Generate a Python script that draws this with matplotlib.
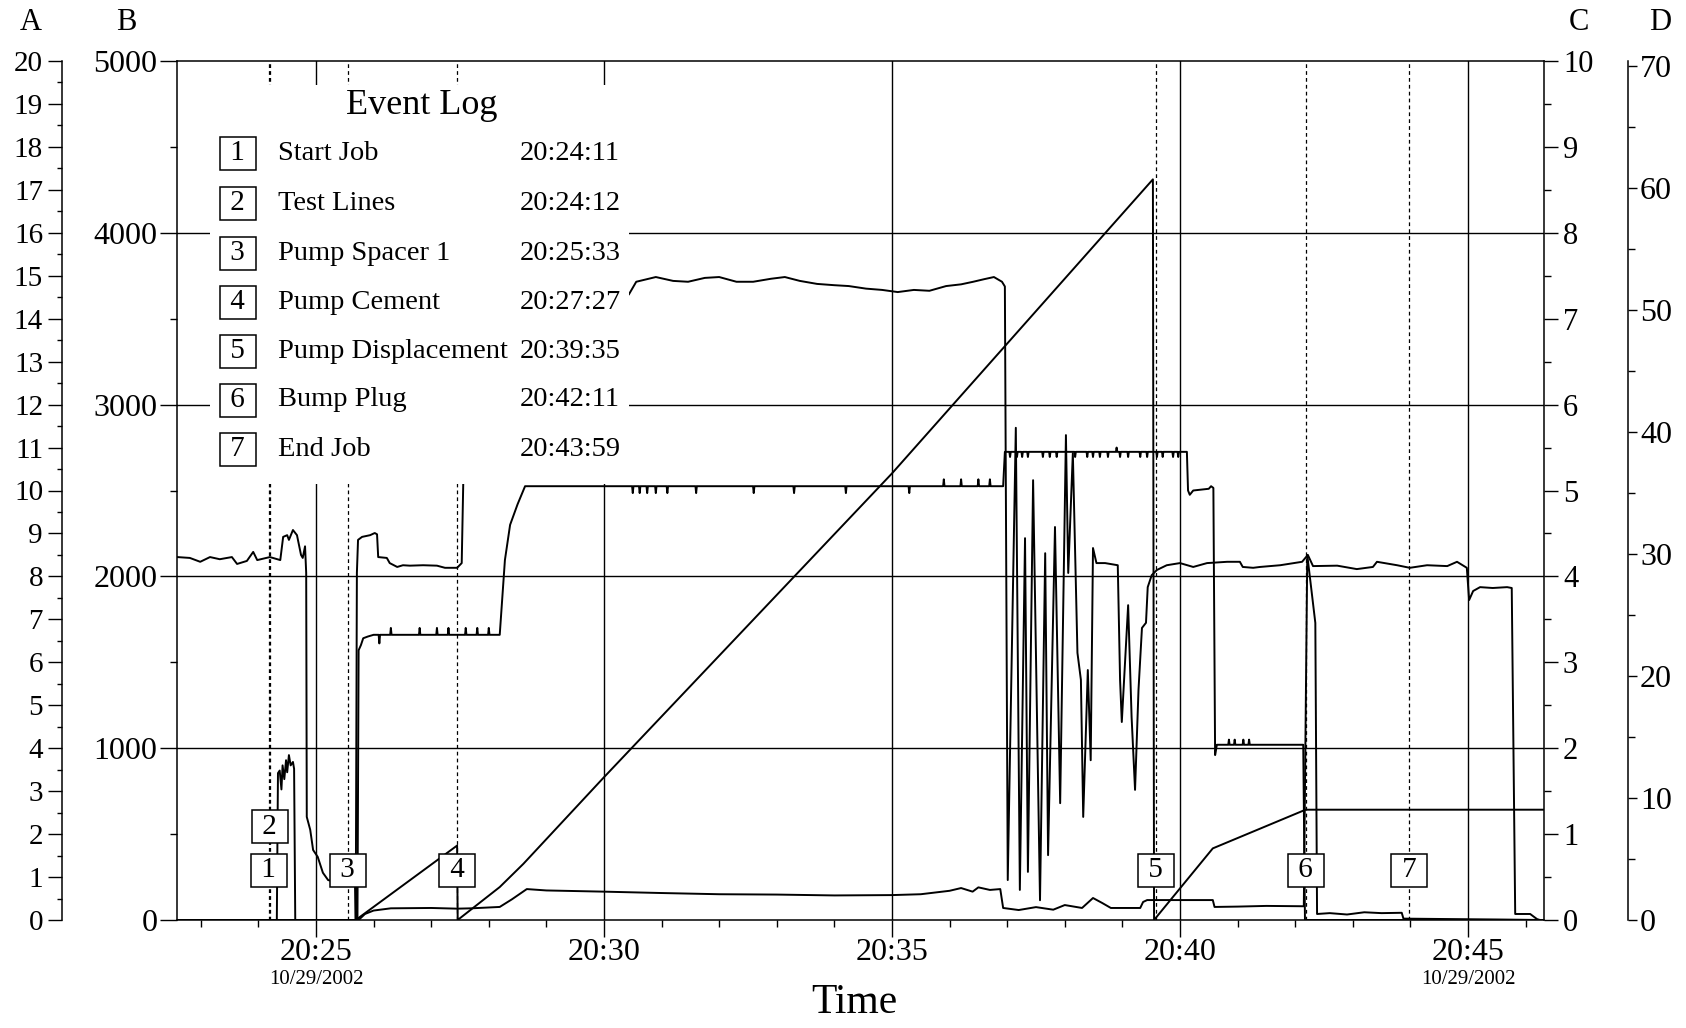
import matplotlib
matplotlib.use('Agg')
import matplotlib.pyplot as plt
from matplotlib.patches import Rectangle
from matplotlib.ticker import MultipleLocator, FixedLocator
import matplotlib.transforms as mtransforms

plt.rcParams['font.family'] = ['Liberation Serif', 'DejaVu Serif']

# ---- data (time in minutes after 20:00) ----
event_nums = ['1', '2', '3', '4', '5', '6', '7']
event_names = ['Start Job', 'Test Lines', 'Pump Spacer 1', 'Pump Cement',
               'Pump Displacement', 'Bump Plug', 'End Job']
event_times = ['20:24:11', '20:24:12', '20:25:33', '20:27:27',
               '20:39:35', '20:42:11', '20:43:59']
event_box_level = [290, 547, 290, 290, 290, 290, 290]   # psi scale

# density (A axis, ppg)
dens_t = [22.59, 22.81, 22.99, 23.16, 23.33, 23.54, 23.63, 23.80, 23.91, 23.98,
          24.20, 24.38, 24.43, 24.50, 24.53, 24.60, 24.67, 24.74, 24.77, 24.81,
          24.83, 24.84, 24.90, 24.95, 25.03, 25.12, 25.21, 25.45, 25.68, 25.69,
          25.71, 25.73, 25.80, 25.94, 26.02, 26.06, 26.08, 26.23, 26.28, 26.41,
          26.51, 26.63, 26.86, 27.10, 27.24, 27.45, 27.53, 27.56, 27.70, 28.50,
          29.50, 30.43, 30.56, 30.90, 31.20, 31.46, 31.75, 32.00, 32.30, 32.59,
          32.90, 33.14, 33.40, 33.70, 34.00, 34.25, 34.55, 34.83, 35.10, 35.38,
          35.65, 35.94, 36.20, 36.41, 36.60, 36.77, 36.91, 36.96, 37.01,
          37.15, 37.22, 37.31, 37.36, 37.45, 37.57, 37.66, 37.71, 37.83, 37.92,
          38.02, 38.06, 38.14, 38.22, 38.28, 38.32, 38.40, 38.45, 38.49, 38.55,
          38.70, 38.92, 38.96, 38.99, 39.10, 39.16, 39.22, 39.28, 39.34, 39.41,
          39.44, 39.51, 39.60, 39.77, 40.00, 40.23, 40.47, 40.82, 41.04, 41.09,
          41.27, 41.39, 41.74, 42.12, 42.22, 42.31, 42.73, 43.07, 43.35, 43.42,
          43.77, 43.99, 44.29, 44.64, 44.81, 44.98, 45.02, 45.09, 45.21, 45.43,
          45.68, 45.76, 45.82, 46.08, 46.20, 46.25]
dens_ppg = [8.45, 8.43, 8.34, 8.45, 8.40, 8.45, 8.29, 8.36, 8.57, 8.38,
            8.45, 8.38, 8.92, 8.96, 8.85, 9.08, 8.96, 8.50, 8.43, 8.70,
            8.08, 2.40, 2.10, 1.63, 1.47, 1.10, 0.93, 0.85, 0.80, 0.00,
            8.08, 8.85, 8.92, 8.96, 9.01, 8.98, 8.45, 8.43, 8.31, 8.22,
            8.26, 8.25, 8.26, 8.25, 8.20, 8.20, 8.31, 10.4, 12.0, 13.5,
            14.3, 14.56, 14.86, 14.97, 14.88, 14.86, 14.95, 14.97, 14.86, 14.86,
            14.93, 14.97, 14.88, 14.81, 14.78, 14.76, 14.70, 14.67, 14.62, 14.67,
            14.65, 14.76, 14.80, 14.86, 14.92, 14.97, 14.86, 14.75, 0.93,
            11.46, 0.70, 8.89, 1.12, 10.24, 0.46, 8.54, 1.51, 9.15, 2.72,
            11.29, 8.08, 10.87, 6.22, 5.59, 2.40, 5.82, 3.72, 8.66, 8.31,
            8.31, 8.26, 5.59, 4.61, 7.33, 4.73, 3.03, 5.36, 6.80, 6.92,
            7.75, 8.03, 8.15, 8.26, 8.31, 8.22, 8.31, 8.34, 8.34, 8.22,
            8.20, 8.22, 8.26, 8.34, 8.50, 8.24, 8.25, 8.17, 8.22, 8.34,
            8.26, 8.20, 8.26, 8.24, 8.34, 8.20, 7.45, 7.66, 7.75, 7.73,
            7.75, 7.73, 0.14, 0.14, 0.02, 0.00]

# pressure (B axis, psi)
pres_t = [22.59, 24.32, 24.34, 24.37, 24.40, 24.42, 24.45, 24.48, 24.50, 24.53,
          24.56, 24.60, 24.62, 24.64, 25.74, 25.85, 26.00, 26.30, 27.00, 27.45,
          27.70, 28.19, 28.40, 28.66, 29.00, 30.00, 31.00, 32.00, 33.00, 34.00,
          35.00, 35.50, 36.00, 36.20, 36.40, 36.50, 36.70, 36.88, 36.93, 37.20,
          37.50, 37.80, 38.00, 38.30, 38.49, 38.65, 38.80, 39.31, 39.36, 39.43,
          40.57, 40.60, 41.00, 41.50, 42.15, 42.21, 42.35, 42.38, 42.60, 42.90,
          43.20, 43.50, 43.85, 43.88, 44.50, 45.50, 46.30]
pres_psi = [0, 0, 855, 870, 760, 900, 820, 930, 860, 960,
            900, 920, 880, 0, 0, 35, 55, 68, 70, 66,
            68, 76, 120, 180, 172, 165, 157, 150, 148, 143,
            145, 150, 170, 186, 165, 190, 175, 180, 70, 58,
            75, 60, 87, 70, 128, 99, 70, 70, 105, 116,
            116, 76, 78, 82, 80, 2125, 1729, 35, 40, 32,
            45, 40, 42, 8, 6, 3, 0]

# rate (C axis, bpm): ramps between flat stretches, plus the small notches seen on each flat stretch
rate_start_t = [22.59, 25.72, 25.74, 25.78, 25.82, 25.90]
rate_start_v = [0, 0, 3.14, 3.20, 3.28, 3.30]
rate_flat1 = (26.0, 28.15, 3.32)
rate_flat1_up = [26.3, 26.8, 27.1, 27.3, 27.6, 27.8, 28.0]
rate_ramp2_t = [28.19, 28.28, 28.37, 28.50]
rate_ramp2_v = [3.32, 4.19, 4.60, 4.84]
rate_flat2 = (28.63, 36.93, 5.05)
rate_flat2_down = [30.5, 30.62, 30.75, 30.9, 31.1, 31.6, 32.6, 33.3, 34.2, 35.3]
rate_flat2_up = [35.9, 36.2, 36.5, 36.7]
rate_flat3 = (36.96, 40.12, 5.45)
rate_flat3_down = [37.05, 37.17, 37.26, 37.36, 37.62, 37.74, 37.86, 38.18, 38.39, 38.49,
                   38.61, 38.75, 38.96, 39.10, 39.31, 39.43, 39.60, 39.70, 39.88, 39.97]
rate_step_t = [40.14, 40.17, 40.23, 40.50, 40.54, 40.58, 40.61]
rate_step_v = [5.00, 4.95, 5.00, 5.02, 5.05, 5.03, 1.92]
rate_flat4 = (40.64, 42.14, 2.04)
rate_flat4_up = [40.85, 40.95, 41.10, 41.20]
rate_end_t = [42.17, 46.32]
rate_end_v = [0, 0]

# volume (D axis, bbl)
vol_t = [22.59, 25.69, 27.45, 27.46, 28.19, 28.60, 29.98, 35.00, 39.53, 39.55,
         40.57, 42.18, 46.32]
vol_bbl = [0, 0, 6.1, 0, 2.7, 4.6, 11.6, 36.6, 60.7, 0,
           5.87, 9.04, 9.04]


def hms(s):
    h, m, sec = (int(v) for v in s.split(':'))
    return (h - 20) * 60 + m + sec / 60.0


def flat(seg, notches):
    # flat stretch with narrow notches at the listed (time, value) spots
    t0, t1, level = seg
    ts, vs = [t0], [level]
    for t, v in sorted(notches):
        ts += [t - 0.012, t, t + 0.012]
        vs += [level, v, level]
    ts.append(t1)
    vs.append(level)
    return ts, vs


rate_t, rate_bpm = list(rate_start_t), list(rate_start_v)
for seg, notch, ramp_t, ramp_v in [
        (rate_flat1, [(t, 3.40) for t in rate_flat1_up] + [(26.1, 3.22)], rate_ramp2_t, rate_ramp2_v),
        (rate_flat2, [(t, 4.97) for t in rate_flat2_down] + [(t, 5.13) for t in rate_flat2_up], [], []),
        (rate_flat3, [(t, 5.39) for t in rate_flat3_down] + [(38.9, 5.50)], rate_step_t, rate_step_v),
        (rate_flat4, [(t, 2.10) for t in rate_flat4_up], rate_end_t, rate_end_v)]:
    ts, vs = flat(seg, notch)
    rate_t += ts + ramp_t
    rate_bpm += vs + ramp_v

ev_t = [hms(s) for s in event_times]

W, H = 1686, 1028
fig = plt.figure(figsize=(W / 100, H / 100), dpi=100)
axB = fig.add_axes([177 / W, 1 - 920 / H, (1544 - 177) / W, (920 - 61) / H])
axA = axB.twinx()
axC = axB.twinx()
axD = axB.twinx()

axB.set_xlim(22.587, 46.32)
axB.set_ylim(0, 5000)
axA.set_ylim(0, 20)
axC.set_ylim(0, 10)
axD.set_ylim(0, 70.4)

lw = 1.4
axA.plot(dens_t, dens_ppg, color='black', lw=lw)
axB.plot(pres_t, pres_psi, color='black', lw=lw)
axC.plot(rate_t, rate_bpm, color='black', lw=lw)
axD.plot(vol_t, vol_bbl, color='black', lw=lw)

# grid
for v in [1000, 2000, 3000, 4000]:
    axB.axhline(v, color='black', lw=1.0, zorder=1)
for v in [25, 30, 35, 40, 45]:
    axB.axvline(v, color='black', lw=1.0, zorder=1)
for t in ev_t:
    axB.axvline(t, color='black', lw=0.9, ls=(0, (3, 2.5)), zorder=1)

# spines
for ax in (axA, axC, axD):
    for s in ax.spines.values():
        s.set_visible(False)
axB.spines['right'].set_visible(True)
axA.spines['left'].set_visible(True)
axA.spines['left'].set_position(('outward', 82.8))
axA.yaxis.tick_left()
axD.spines['right'].set_visible(True)
axD.spines['right'].set_position(('outward', 60.5))
for ax in (axA, axB, axC, axD):
    for s in ax.spines.values():
        s.set_linewidth(1.1)

# ticks
axB.yaxis.tick_left()
axB.yaxis.set_major_locator(MultipleLocator(1000))
axB.yaxis.set_minor_locator(MultipleLocator(500))
axB.tick_params(axis='y', which='major', direction='out', length=12, width=1, pad=2, labelsize=23)
axB.tick_params(axis='y', which='minor', direction='out', length=5, width=1)

axB.xaxis.set_major_locator(FixedLocator([25, 30, 35, 40, 45]))
axB.xaxis.set_minor_locator(MultipleLocator(1))
axB.set_xticklabels(['20:25', '20:30', '20:35', '20:40', '20:45'])
axB.tick_params(axis='x', which='major', direction='out', length=12, width=1, pad=1, labelsize=23)
axB.tick_params(axis='x', which='minor', direction='out', length=5, width=1)

axA.yaxis.set_major_locator(MultipleLocator(1))
axA.yaxis.set_minor_locator(MultipleLocator(0.5))
axA.tick_params(axis='y', which='major', direction='out', length=10, width=1, pad=3.6, labelsize=21)
axA.tick_params(axis='y', which='minor', direction='out', length=3.6, width=1)

axC.yaxis.set_major_locator(MultipleLocator(1))
axC.yaxis.set_minor_locator(MultipleLocator(0.5))
axC.tick_params(axis='y', which='major', direction='out', length=10, width=1, pad=3.6, labelsize=22)
axC.tick_params(axis='y', which='minor', direction='out', length=5, width=1)

axD.yaxis.set_major_locator(MultipleLocator(10))
axD.yaxis.set_minor_locator(MultipleLocator(5))
axD.tick_params(axis='y', which='major', direction='out', length=6.5, width=1, pad=2.2, labelsize=23)
axD.tick_params(axis='y', which='minor', direction='out', length=5, width=1)

# date under 20:25 and 20:45
blend = mtransforms.blended_transform_factory(axB.transData, fig.transFigure)
for t in [25, 45]:
    axB.text(t, 1 - 979 / H, '10/29/2002', transform=blend, ha='center', va='center',
             fontsize=15)

fig.text(854 / W, 1 - 1003 / H, 'Time', ha='center', va='center', fontsize=30)

# axis letters
for lab, x, y in [('A', 31, 23), ('B', 126, 23), ('C', 1579, 23), ('D', 1660, 23)]:
    fig.text(x / W, 1 - y / H, lab, ha='center', va='center', fontsize=22)

# event number boxes on the chart
for n, t, lev in zip(event_nums, ev_t, event_box_level):
    axD.text(t, lev * 70.0 / 5000.0, f' {n} ', ha='center', va='center', fontsize=21,
             zorder=5, bbox=dict(boxstyle='square,pad=0.12', fc='white', ec='black', lw=1.1))

# event log panel (opaque white area on top of the plot)
fig.add_artist(Rectangle((210 / W, 1 - 484 / H), 419 / W, 399 / H,
                         transform=fig.transFigure, fc='white', ec='none', zorder=1))
fig.text(422 / W, 1 - 106 / H, 'Event Log', ha='center', va='center', fontsize=26)
row_y = [153, 203, 253, 302, 351, 400, 449]
for n, name, tm, y in zip(event_nums, event_names, event_times, row_y):
    fig.text(238 / W, 1 - y / H, f' {n} ', ha='center', va='center', fontsize=21,
             bbox=dict(boxstyle='square,pad=0.12', fc='white', ec='black', lw=1.1))
    fig.text(278 / W, 1 - y / H, name, ha='left', va='center', fontsize=20.5)
    fig.text(520 / W, 1 - y / H, tm, ha='left', va='center', fontsize=20.5)

fig.savefig('out.png', dpi=100)
